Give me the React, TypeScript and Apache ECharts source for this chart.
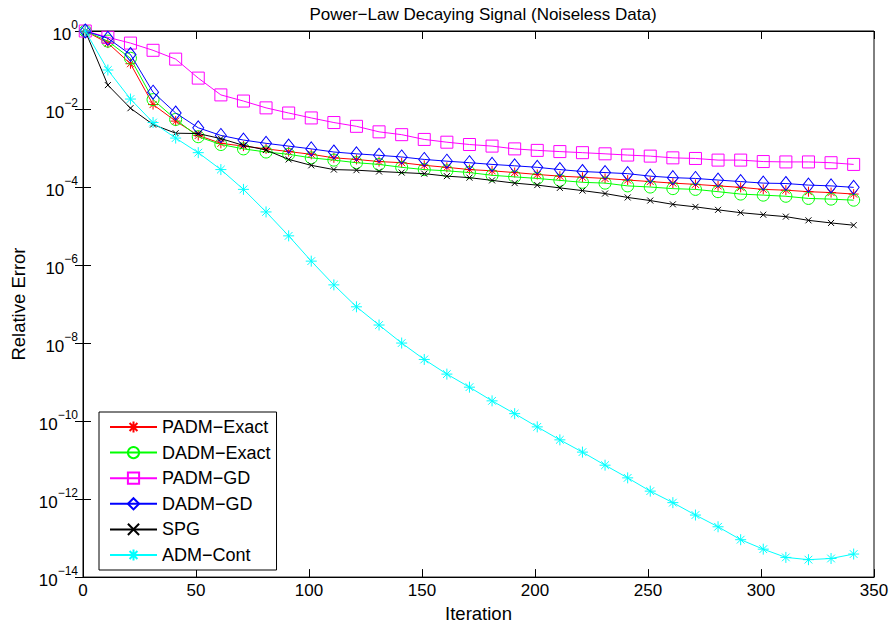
import React, { useEffect, useRef } from "react";
import * as echarts from "echarts";

const iterations = [1, 11, 21, 31, 41, 51, 61, 71, 81, 91, 101, 111, 121, 131, 141, 151, 161, 171, 181, 191, 201, 211, 221, 231, 241, 251, 261, 271, 281, 291, 301, 311, 321, 331, 341];

const padmExact = [1, 0.49, 0.145, 1.3e-2, 4.9e-3, 2.1e-3, 1.32e-3, 1.12e-3, 9.5e-4, 8.1e-4, 6.9e-4, 5.6e-4, 5.1e-4, 4.5e-4, 4.2e-4, 3.6e-4, 3.2e-4, 2.8e-4, 2.6e-4, 2.35e-4, 2.1e-4, 1.9e-4, 1.78e-4, 1.66e-4, 1.51e-4, 1.38e-4, 1.26e-4, 1.17e-4, 1.07e-4, 9.8e-5, 8.7e-5, 8.3e-5, 7.6e-5, 7.2e-5, 6.6e-5];
const dadmExact = [1, 0.55, 0.2, 1.74e-2, 5.4e-3, 1.95e-3, 1.23e-3, 9.5e-4, 7.9e-4, 6.9e-4, 5.6e-4, 4.9e-4, 4.2e-4, 3.8e-4, 3.2e-4, 2.8e-4, 2.6e-4, 2.35e-4, 2.0e-4, 1.82e-4, 1.66e-4, 1.48e-4, 1.32e-4, 1.26e-4, 1.07e-4, 1.0e-4, 9.1e-5, 8.7e-5, 7.6e-5, 6.6e-5, 6.2e-5, 5.8e-5, 5.1e-5, 4.9e-5, 4.6e-5];
const padmGD = [1, 0.69, 0.49, 0.32, 0.19, 6.2e-2, 2.3e-2, 1.6e-2, 1.07e-2, 7.9e-3, 5.9e-3, 4.5e-3, 3.6e-3, 2.6e-3, 2.2e-3, 1.66e-3, 1.41e-3, 1.23e-3, 1.12e-3, 9.5e-4, 8.7e-4, 8.1e-4, 7.6e-4, 7.1e-4, 6.6e-4, 6.2e-4, 5.6e-4, 5.4e-4, 4.9e-4, 4.9e-4, 4.5e-4, 4.4e-4, 4.4e-4, 4.2e-4, 3.8e-4];
const dadmGD = [1, 0.65, 0.25, 2.7e-2, 7.9e-3, 3.3e-3, 2.1e-3, 1.6e-3, 1.32e-3, 1.12e-3, 9.5e-4, 7.9e-4, 7.1e-4, 6.5e-4, 5.9e-4, 5.1e-4, 4.6e-4, 4.2e-4, 3.8e-4, 3.5e-4, 3.2e-4, 2.8e-4, 2.5e-4, 2.35e-4, 2.2e-4, 1.9e-4, 1.74e-4, 1.66e-4, 1.51e-4, 1.38e-4, 1.26e-4, 1.23e-4, 1.12e-4, 1.07e-4, 9.8e-5];
const spg = [1, 4.1e-2, 1.05e-2, 4.0e-3, 2.4e-3, 2.35e-3, 1.74e-3, 1.17e-3, 8.9e-4, 5.1e-4, 3.6e-4, 2.8e-4, 2.7e-4, 2.5e-4, 2.35e-4, 2.2e-4, 1.9e-4, 1.74e-4, 1.48e-4, 1.26e-4, 1.12e-4, 9.5e-5, 8.1e-5, 6.8e-5, 5.4e-5, 4.5e-5, 3.6e-5, 3.1e-5, 2.6e-5, 2.2e-5, 1.95e-5, 1.74e-5, 1.4e-5, 1.2e-5, 1.05e-5];
const admCont = [1, 0.1, 1.8e-2, 4.5e-3, 1.8e-3, 7.6e-4, 2.8e-4, 8.7e-5, 2.3e-5, 5.6e-6, 1.26e-6, 3.1e-7, 8.5e-8, 2.9e-8, 1.0e-8, 3.8e-9, 1.6e-9, 7.4e-10, 3.3e-10, 1.55e-10, 7.1e-11, 3.3e-11, 1.6e-11, 7.4e-12, 3.5e-12, 1.6e-12, 8.1e-13, 3.9e-13, 1.95e-13, 9.1e-14, 5.2e-14, 3.2e-14, 2.8e-14, 3.0e-14, 3.9e-14];

const seriesNames = ["PADM\u2212Exact", "DADM\u2212Exact", "PADM\u2212GD", "DADM\u2212GD", "SPG", "ADM\u2212Cont"];
const seriesColors = ["#ff0000", "#00ff00", "#ff00ff", "#0000ff", "#000000", "#00ffff"];
const xTicks = [0, 50, 100, 150, 200, 250, 300, 350];
const yTickExponents = [0, -2, -4, -6, -8, -10, -12, -14];

const FONT = "'Liberation Sans', Arial, Helvetica, sans-serif";
const STAR = "path://M0,-10L0,10M-10,0L10,0M-7,-7L7,7M-7,7L7,-7";
const CROSS = "path://M-10,-10L10,10M-10,10L10,-10";

export default function App() {
  const ref = useRef<HTMLDivElement>(null);
  useEffect(() => {
    document.body.style.margin = "0";
    const chart = echarts.init(ref.current!, null, { renderer: "svg" });
    const allData = [padmExact, dadmExact, padmGD, dadmGD, spg, admCont];
    const symbols = [STAR, "circle", "rect", "diamond", CROSS, STAR];
    const sizes: (number | number[])[] = [10, 12, 12, [11, 14], 6, 11];
    const series = allData.map((vals, i) => ({
      name: seriesNames[i],
      type: "line",
      xAxisIndex: 0,
      yAxisIndex: 0,
      data: iterations.map((it, k) => [it, vals[k]]),
      symbol: symbols[i],
      symbolSize: sizes[i],
      showSymbol: true,
      lineStyle: { color: seriesColors[i], width: 1 },
      itemStyle: { color: "rgba(0,0,0,0)", borderColor: seriesColors[i], borderWidth: 1 },
      emphasis: { disabled: true },
      z: 2 + i,
    }));
    const xMin = xTicks[0];
    const xMax = xTicks[xTicks.length - 1];
    const xInt = xTicks[1] - xTicks[0];
    const yMin = Math.pow(10, yTickExponents[yTickExponents.length - 1]);
    const yMax = Math.pow(10, yTickExponents[0]);
    const yInt = yTickExponents[0] - yTickExponents[1];
    const tickStyle = { show: true, inside: true, length: 8, lineStyle: { color: "#000", width: 1 } };
    const lineStyle = { show: true, lineStyle: { color: "#000", width: 1 } };
    const supLabel = (v: number) => {
      const e = Math.round(Math.log10(v));
      return `{b|10}{s|${e < 0 ? "\u2212" : ""}${Math.abs(e)}}`;
    };
    const option: any = {
      animation: false,
      backgroundColor: "#fff",
      title: {
        text: "Power\u2212Law Decaying Signal (Noiseless Data)",
        left: 478,
        textAlign: "center",
        top: 1,
        textStyle: { fontFamily: FONT, fontSize: 17, fontWeight: "normal", color: "#000" },
      },
      grid: { left: 83, right: 19, top: 31, bottom: 48, show: true, borderColor: "#000", borderWidth: 1, backgroundColor: "#fff" },
      legend: {
        orient: "vertical",
        left: 99,
        top: 412,
        backgroundColor: "#fff",
        borderColor: "#000",
        borderWidth: 1,
        padding: [6, 6, 6, 10],
        itemWidth: 47,
        itemHeight: 14,
        itemGap: 7.6,
        textStyle: { fontFamily: FONT, fontSize: 18, color: "#000" },
        data: seriesNames,
      },
      xAxis: [
        {
          type: "value",
          min: xMin,
          max: xMax,
          interval: xInt,
          name: "Iteration",
          nameLocation: "middle",
          nameGap: 23,
          nameTextStyle: { fontFamily: FONT, fontSize: 18.5, color: "#000" },
          axisLine: lineStyle,
          axisTick: tickStyle,
          splitLine: { show: false },
          axisLabel: { fontFamily: FONT, fontSize: 17, color: "#000", margin: 5 },
        },
        {
          type: "value",
          position: "top",
          min: xMin,
          max: xMax,
          interval: xInt,
          axisLine: lineStyle,
          axisTick: tickStyle,
          splitLine: { show: false },
          axisLabel: { show: false },
        },
      ],
      yAxis: [
        {
          type: "log",
          logBase: 10,
          min: yMin,
          max: yMax,
          interval: yInt,
          name: "Relative Error",
          nameLocation: "middle",
          nameGap: 50,
          nameTextStyle: { fontFamily: FONT, fontSize: 18.5, color: "#000" },
          axisLine: lineStyle,
          axisTick: tickStyle,
          splitLine: { show: false },
          minorTick: { show: false },
          axisLabel: {
            margin: 5,
            formatter: supLabel,
            rich: {
              b: { fontFamily: FONT, fontSize: 17, color: "#000", padding: [6, 0, 0, 0] },
              s: { fontFamily: FONT, fontSize: 12, color: "#000", padding: [0, 0, 13, 0] },
            },
          },
        },
        {
          type: "log",
          logBase: 10,
          position: "right",
          min: yMin,
          max: yMax,
          interval: yInt,
          axisLine: lineStyle,
          axisTick: tickStyle,
          splitLine: { show: false },
          axisLabel: { show: false },
        },
      ],
      series,
    };
    chart.setOption(option);
    return () => chart.dispose();
  }, []);
  return <div ref={ref} style={{ width: 893, height: 628 }} />;
}
